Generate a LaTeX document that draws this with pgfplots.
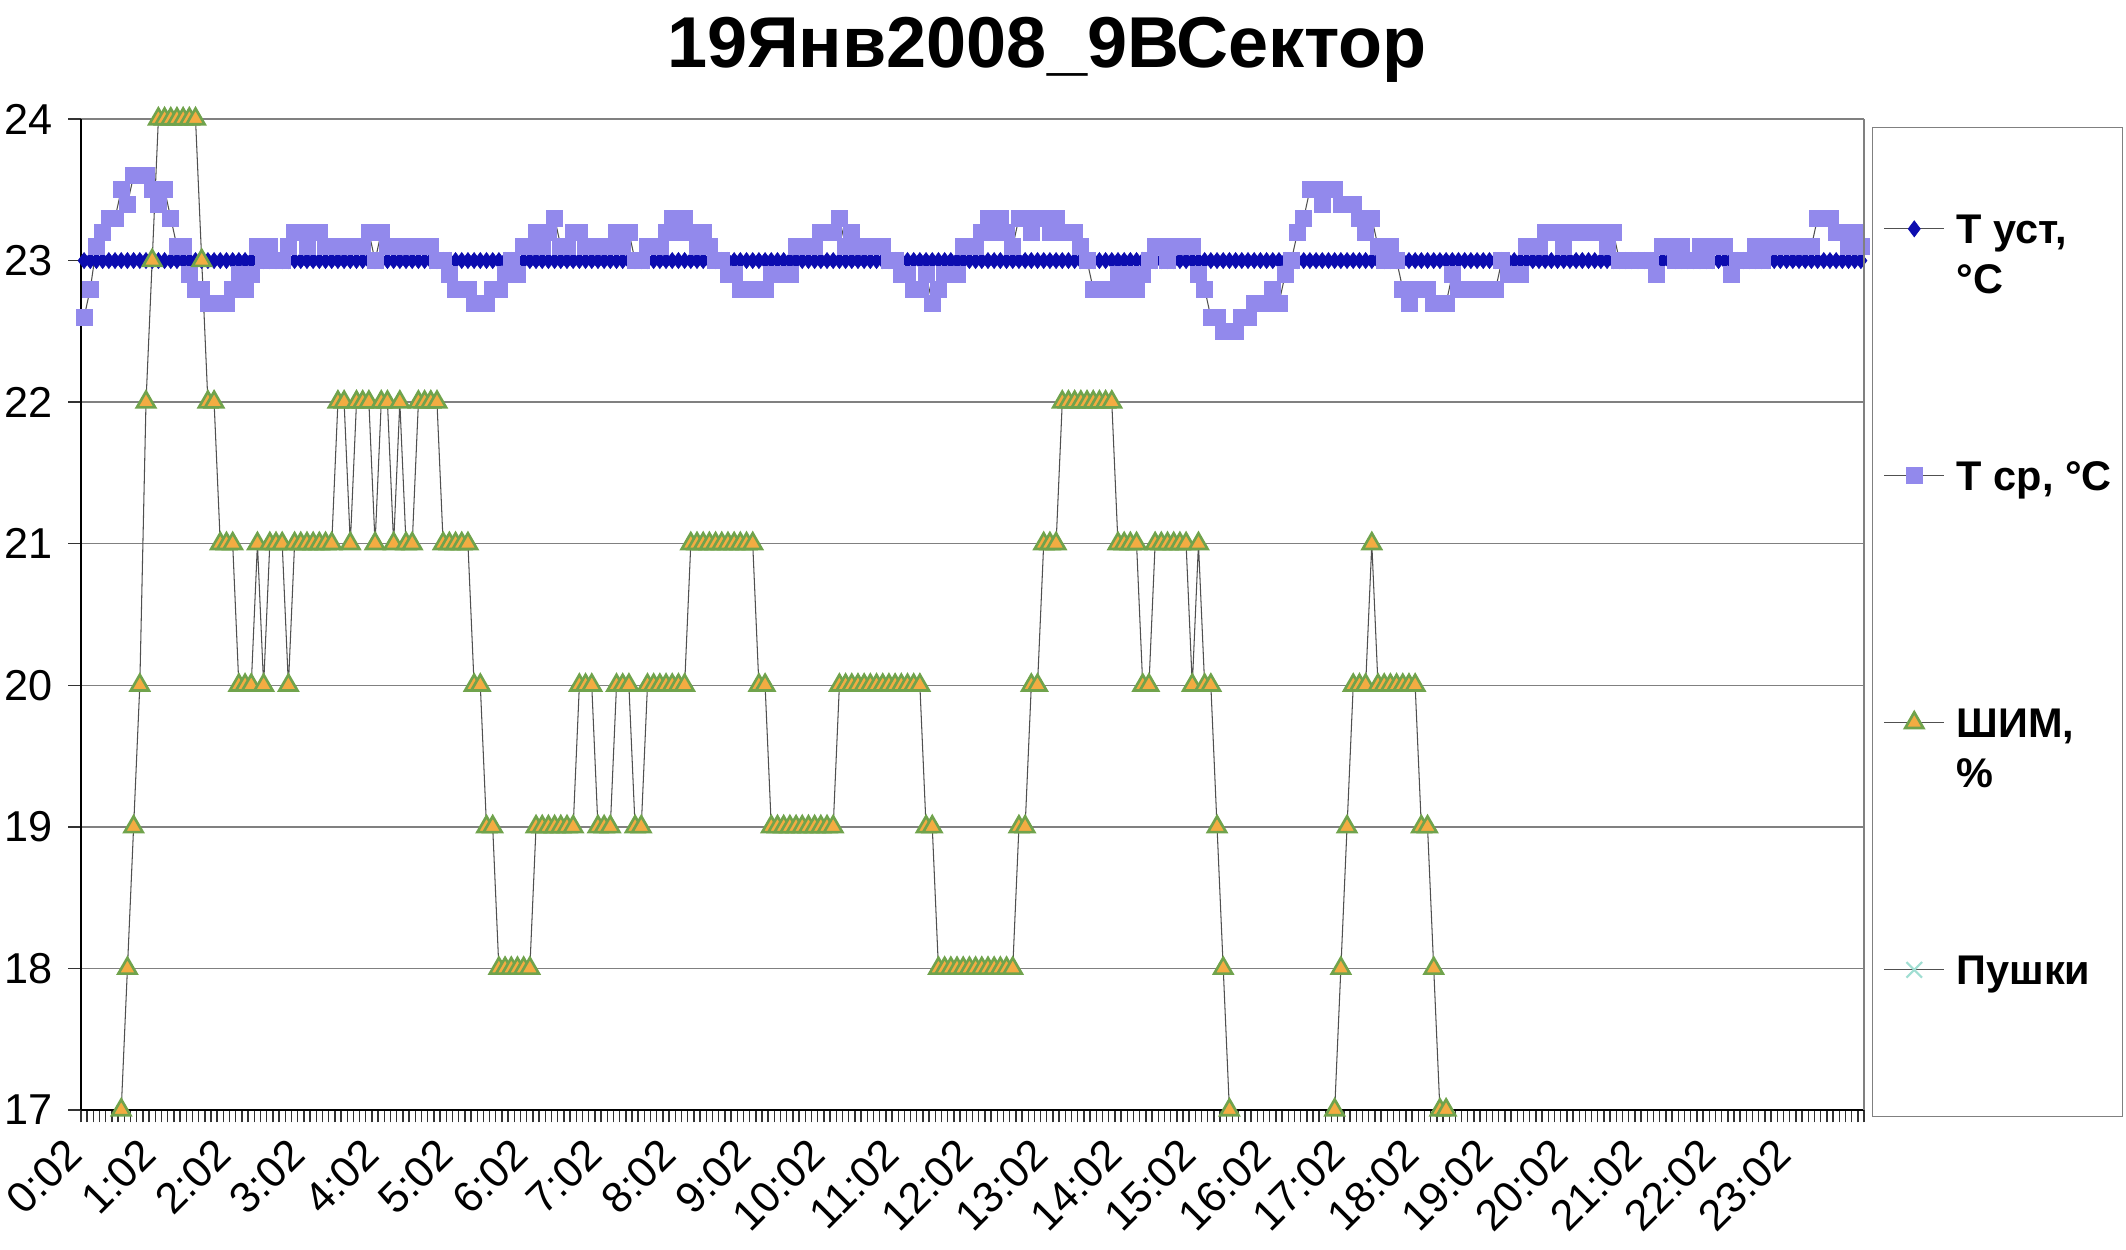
\documentclass[border=0pt]{standalone}
\usepackage{fontspec}
\setmainfont{Liberation Sans}
\usepackage{pgfplots}
\usepackage{pgfplotstable}
\pgfplotsset{compat=1.18}

\definecolor{ustblue}{RGB}{12,12,175}
\definecolor{srlav}{RGB}{146,137,236}
\definecolor{shimfill}{RGB}{243,172,66}
\definecolor{shimedge}{RGB}{112,163,76}
\definecolor{pushx}{RGB}{160,222,210}
\definecolor{serline}{RGB}{80,80,80}

% i = sample number (every 5 min from 0:02), T ust, T sr, SHIM (nan = below 17)
\pgfplotstableread{
i tust tsr shim
0 23 22.6 nan
1 23 22.8 nan
2 23 23.1 nan
3 23 23.2 nan
4 23 23.3 nan
5 23 23.3 nan
6 23 23.5 17
7 23 23.4 18
8 23 23.6 19
9 23 23.6 20
10 23 23.6 22
11 23 23.5 23
12 23 23.4 24
13 23 23.5 24
14 23 23.3 24
15 23 23.1 24
16 23 23.1 24
17 23 22.9 24
18 23 22.8 24
19 23 22.8 23
20 23 22.7 22
21 23 22.7 22
22 23 22.7 21
23 23 22.7 21
24 23 22.8 21
25 23 22.9 20
26 23 22.8 20
27 23 22.9 20
28 23 23.1 21
29 23 23.0 20
30 23 23.1 21
31 23 23.0 21
32 23 23.0 21
33 23 23.1 20
34 23 23.2 21
35 23 23.2 21
36 23 23.1 21
37 23 23.2 21
38 23 23.2 21
39 23 23.1 21
40 23 23.1 21
41 23 23.1 22
42 23 23.1 22
43 23 23.1 21
44 23 23.1 22
45 23 23.1 22
46 23 23.2 22
47 23 23.0 21
48 23 23.2 22
49 23 23.1 22
50 23 23.1 21
51 23 23.1 22
52 23 23.1 21
53 23 23.1 21
54 23 23.1 22
55 23 23.1 22
56 23 23.1 22
57 23 23.0 22
58 23 23.0 21
59 23 22.9 21
60 23 22.8 21
61 23 22.8 21
62 23 22.8 21
63 23 22.7 20
64 23 22.7 20
65 23 22.7 19
66 23 22.8 19
67 23 22.8 18
68 23 22.9 18
69 23 23.0 18
70 23 22.9 18
71 23 23.1 18
72 23 23.1 18
73 23 23.2 19
74 23 23.1 19
75 23 23.2 19
76 23 23.3 19
77 23 23.1 19
78 23 23.1 19
79 23 23.2 19
80 23 23.2 20
81 23 23.1 20
82 23 23.1 20
83 23 23.1 19
84 23 23.1 19
85 23 23.1 19
86 23 23.2 20
87 23 23.1 20
88 23 23.2 20
89 23 23.0 19
90 23 23.0 19
91 23 23.1 20
92 23 23.1 20
93 23 23.1 20
94 23 23.2 20
95 23 23.3 20
96 23 23.2 20
97 23 23.3 20
98 23 23.2 21
99 23 23.1 21
100 23 23.2 21
101 23 23.1 21
102 23 23.0 21
103 23 23.0 21
104 23 22.9 21
105 23 22.9 21
106 23 22.8 21
107 23 22.8 21
108 23 22.8 21
109 23 22.8 20
110 23 22.8 20
111 23 22.9 19
112 23 22.9 19
113 23 22.9 19
114 23 22.9 19
115 23 23.1 19
116 23 23.1 19
117 23 23.1 19
118 23 23.1 19
119 23 23.2 19
120 23 23.2 19
121 23 23.2 19
122 23 23.3 20
123 23 23.1 20
124 23 23.2 20
125 23 23.1 20
126 23 23.1 20
127 23 23.1 20
128 23 23.1 20
129 23 23.1 20
130 23 23.0 20
131 23 23.0 20
132 23 22.9 20
133 23 22.9 20
134 23 22.8 20
135 23 22.8 20
136 23 22.9 19
137 23 22.7 19
138 23 22.8 18
139 23 22.9 18
140 23 22.9 18
141 23 22.9 18
142 23 23.1 18
143 23 23.1 18
144 23 23.1 18
145 23 23.2 18
146 23 23.3 18
147 23 23.2 18
148 23 23.3 18
149 23 23.2 18
150 23 23.1 18
151 23 23.3 19
152 23 23.3 19
153 23 23.2 20
154 23 23.3 20
155 23 23.3 21
156 23 23.2 21
157 23 23.3 21
158 23 23.2 22
159 23 23.2 22
160 23 23.2 22
161 23 23.1 22
162 23 23.0 22
163 23 22.8 22
164 23 22.8 22
165 23 22.8 22
166 23 22.8 22
167 23 22.9 21
168 23 22.8 21
169 23 22.9 21
170 23 22.8 21
171 23 22.9 20
172 23 23.0 20
173 23 23.1 21
174 23 23.1 21
175 23 23.0 21
176 23 23.1 21
177 23 23.1 21
178 23 23.1 21
179 23 23.1 20
180 23 22.9 21
181 23 22.8 20
182 23 22.6 20
183 23 22.6 19
184 23 22.5 18
185 23 22.5 17
186 23 22.5 nan
187 23 22.6 nan
188 23 22.6 nan
189 23 22.7 nan
190 23 22.7 nan
191 23 22.7 nan
192 23 22.8 nan
193 23 22.7 nan
194 23 22.9 nan
195 23 23.0 nan
196 23 23.2 nan
197 23 23.3 nan
198 23 23.5 nan
199 23 23.5 nan
200 23 23.4 nan
201 23 23.5 nan
202 23 23.5 17
203 23 23.4 18
204 23 23.4 19
205 23 23.4 20
206 23 23.3 20
207 23 23.2 20
208 23 23.3 21
209 23 23.1 20
210 23 23.0 20
211 23 23.1 20
212 23 23.0 20
213 23 22.8 20
214 23 22.7 20
215 23 22.8 20
216 23 22.8 19
217 23 22.8 19
218 23 22.7 18
219 23 22.7 17
220 23 22.7 17
221 23 22.9 nan
222 23 22.8 nan
223 23 22.8 nan
224 23 22.8 nan
225 23 22.8 nan
226 23 22.8 nan
227 23 22.8 nan
228 23 22.8 nan
229 23 23.0 nan
230 23 22.9 nan
231 23 22.9 nan
232 23 22.9 nan
233 23 23.1 nan
234 23 23.1 nan
235 23 23.1 nan
236 23 23.2 nan
237 23 23.2 nan
238 23 23.2 nan
239 23 23.1 nan
240 23 23.2 nan
241 23 23.2 nan
242 23 23.2 nan
243 23 23.2 nan
244 23 23.2 nan
245 23 23.2 nan
246 23 23.1 nan
247 23 23.2 nan
248 23 23.0 nan
249 23 23.0 nan
250 23 23.0 nan
251 23 23.0 nan
252 23 23.0 nan
253 23 23.0 nan
254 23 22.9 nan
255 23 23.1 nan
256 23 23.1 nan
257 23 23.0 nan
258 23 23.1 nan
259 23 23.0 nan
260 23 23.0 nan
261 23 23.1 nan
262 23 23.0 nan
263 23 23.1 nan
264 23 23.1 nan
265 23 23.1 nan
266 23 22.9 nan
267 23 23.0 nan
268 23 23.0 nan
269 23 23.0 nan
270 23 23.1 nan
271 23 23.0 nan
272 23 23.1 nan
273 23 23.1 nan
274 23 23.1 nan
275 23 23.1 nan
276 23 23.1 nan
277 23 23.1 nan
278 23 23.1 nan
279 23 23.1 nan
280 23 23.3 nan
281 23 23.3 nan
282 23 23.3 nan
283 23 23.2 nan
284 23 23.2 nan
285 23 23.1 nan
286 23 23.2 nan
287 23 23.1 nan
}\logdata

\newcommand{\lgd}[2]{\parbox[t][#1][t]{15.5mm}{\strut #2}}

\begin{document}
\begin{tikzpicture}
\useasboundingbox (-8.1mm,-14mm) rectangle (204.5mm,111mm);
\begin{axis}[
  name=ax,
  at={(0,0)}, anchor=south west,
  scale only axis, width=178.3mm, height=99.1mm,
  xmin=-0.5, xmax=287.5, ymin=17, ymax=24,
  axis x line*=bottom, axis y line*=left,
  axis line style={black, line width=0.4pt},
  tick align=outside, major tick length=1.25mm,
  tick style={black!80, line width=0.4pt},
  ytick={17,18,...,24},
  ymajorgrids, major grid style={gray, line width=0.4pt},
  xtick={-0.5,0.5,...,287.5}, xticklabels={},
  extra x ticks={0,12,...,276},
  extra x tick labels={0:02,1:02,2:02,3:02,4:02,5:02,6:02,7:02,8:02,9:02,10:02,11:02,12:02,13:02,14:02,15:02,16:02,17:02,18:02,19:02,20:02,21:02,22:02,23:02},
  extra x tick style={major tick length=0pt, grid=none},
  xticklabel style={font=\fontsize{12.3}{14}\selectfont, inner sep=0pt, xshift=-2.1mm, yshift=-2.5mm, rotate=45, anchor=north east},
  yticklabel style={font=\fontsize{12.3}{14}\selectfont, inner sep=0pt, anchor=east, xshift=-1.5mm},
  /pgf/number format/assume math mode=true,
  unbounded coords=jump,
  title={19Янв2008\_9ВСектор},
  every axis title shift=0pt,
  title style={font=\fontsize{20.5}{24}\selectfont\bfseries, at={(0.5418,1.07)}, anchor=center},
  legend style={at={(1.0045,0.992)}, anchor=north west, draw=gray, line width=0.4pt, fill=white,
    inner xsep=1.1mm, inner ysep=8.1mm, row sep=0pt, column sep=1.2mm,
    cells={anchor=base west}, nodes={inner sep=0pt, text depth=},
    font=\fontsize{11.8}{14.2}\selectfont\bfseries},
  legend image post style={yshift=4.2pt},
]
\addplot[serline, line width=0.3pt, mark=diamond*, mark size=0.8mm,
  mark options={fill=ustblue, draw=ustblue, line width=0.2pt}] table[x=i, y=tust]{\logdata};
\addlegendentry{\lgd{24.7mm}{Т уст,\newline °C}}
\addplot[serline, line width=0.3pt, mark=square*, mark size=0.8mm,
  mark options={fill=srlav, draw=srlav, line width=0.2pt}] table[x=i, y=tsr]{\logdata};
\addlegendentry{\lgd{24.7mm}{Т ср, °C}}
\addplot[serline, line width=0.3pt, mark=triangle*, mark size=1.05mm,
  mark options={fill=shimfill, draw=shimedge, line width=0.75pt}] table[x=i, y=shim]{\logdata};
\addlegendentry{\lgd{24.7mm}{ШИМ,\newline \%}}
\addlegendimage{serline, line width=0.3pt, mark=x, mark size=1.1mm, mark options={draw=pushx, line width=0.6pt}}
\addlegendentry{\lgd{8.6mm}{Пушки}}
\end{axis}
\draw[gray, line width=0.4pt] (ax.south east) -- (ax.north east);
\end{tikzpicture}
\end{document}
